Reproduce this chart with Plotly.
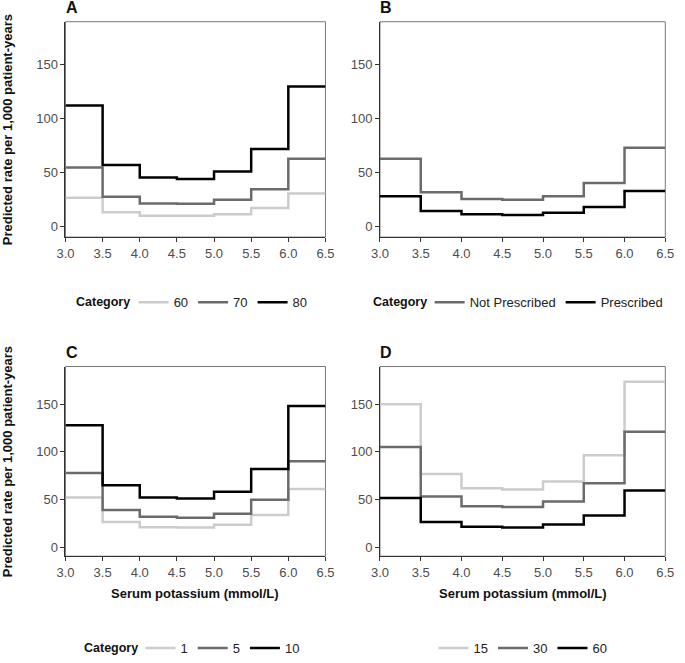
import plotly.graph_objects as go

# ---- data ----
bin_starts = [3.0, 3.5, 4.0, 4.5, 5.0, 5.5, 6.0]
bin_end = 6.5
x_ticks = [3.0, 3.5, 4.0, 4.5, 5.0, 5.5, 6.0, 6.5]
y_ticks = [0, 50, 100, 150]

a_names = ["60", "70", "80"]
a_60 = [26.8, 13.4, 10.3, 10.3, 11.6, 17.3, 30.7]
a_70 = [54.8, 27.7, 21.6, 21.3, 24.9, 34.7, 63.0]
a_80 = [112.0, 57.2, 45.6, 44.1, 51.1, 71.8, 129.6]

b_names = ["Not Prescribed", "Prescribed"]
b_not = [63.0, 31.9, 25.6, 24.9, 28.3, 40.5, 73.0]
b_pres = [28.3, 14.6, 11.6, 11.0, 13.0, 18.3, 33.2]

c_names = ["1", "5", "10"]
c_1 = [52.0, 26.4, 20.8, 20.5, 23.6, 33.7, 61.0]
c_5 = [77.8, 38.9, 31.9, 30.9, 35.0, 49.7, 90.0]
c_10 = [128.0, 65.0, 52.0, 51.0, 58.0, 82.0, 148.0]

d_names = ["15", "30", "60"]
d_15 = [150.0, 76.7, 61.9, 60.5, 68.8, 96.4, 173.5]
d_30 = [105.0, 53.2, 42.9, 42.2, 48.0, 67.0, 121.0]
d_60 = [51.5, 26.3, 21.4, 20.7, 23.8, 33.2, 59.5]

LIGHT = "#cccccc"
MID = "#6b6b6b"
DARK = "#000000"

W, H = 685, 663
FONT = "Liberation Sans, Arial, sans-serif"

def px_x(v):
    return v / W

def px_y(v):
    return (H - v) / H

panels = {
    "A": dict(x=(58, 325), y=(22, 240)),
    "B": dict(x=(381, 674), y=(22, 240)),
    "C": dict(x=(58, 325), y=(371, 563)),
    "D": dict(x=(381, 674), y=(371, 563)),
}

fig = go.Figure()

series = {
    "A": (a_names, [a_60, a_70, a_80], [LIGHT, MID, DARK], "legend"),
    "B": (b_names, [b_not, b_pres], [MID, DARK], "legend2"),
    "C": (c_names, [c_1, c_5, c_10], [LIGHT, MID, DARK], "legend3"),
    "D": (d_names, [d_15, d_30, d_60], [LIGHT, MID, DARK], "legend4"),
}

axis_ids = {"A": "", "B": "2", "C": "3", "D": "4"}

for key, (names, vals, cols, leg) in series.items():
    aid = axis_ids[key]
    for nm, v, c in zip(names, vals, cols):
        xs = list(bin_starts) + [bin_end]
        ys = list(v) + [v[-1]]
        fig.add_trace(go.Scatter(
            x=xs, y=ys, mode="lines", name=nm,
            line=dict(color=c, width=2.5, shape="hv"),
            xaxis="x" + aid, yaxis="y" + aid, legend=leg,
            showlegend=True,
        ))

tick_font = dict(family=FONT, size=13, color="#4d4d4d")
layout = dict(
    width=W, height=H,
    margin=dict(l=0, r=0, t=0, b=0),
    paper_bgcolor="white", plot_bgcolor="white",
    font=dict(family=FONT, color="#222"),
    showlegend=True,
)

for key, p in panels.items():
    aid = axis_ids[key]
    layout["xaxis" + aid] = dict(
        domain=[px_x(p["x"][0]), px_x(p["x"][1])],
        range=[3.0, 6.5], tickvals=x_ticks,
        ticktext=[f"{t:.1f}" for t in x_ticks],
        showgrid=False, zeroline=False,
        showline=True, linecolor="#333", linewidth=1,
        ticks="outside", ticklen=4, tickcolor="#333",
        tickfont=tick_font, anchor="y" + aid, fixedrange=True,
    )
    layout["yaxis" + aid] = dict(
        domain=[px_y(p["y"][1]), px_y(p["y"][0])],
        range=[-9.5, 189.5], tickvals=y_ticks,
        showgrid=False, zeroline=False,
        showline=True, linecolor="#333", linewidth=1,
        ticks="outside", ticklen=4, tickcolor="#333",
        tickfont=tick_font, anchor="x" + aid, fixedrange=True,
    )

leg_common = dict(
    orientation="h", xanchor="left", yanchor="middle",
    font=dict(family=FONT, size=13, color="#222"),
    bgcolor="rgba(0,0,0,0)", borderwidth=0, itemwidth=30,
)
layout["legend"] = dict(leg_common, x=px_x(128), y=px_y(306))
layout["legend2"] = dict(leg_common, x=px_x(432), y=px_y(306))
layout["legend3"] = dict(leg_common, x=px_x(135), y=px_y(656))
layout["legend4"] = dict(leg_common, x=px_x(436), y=px_y(656))

fig.update_layout(**layout)

shapes = []
for key in panels:
    aid = axis_ids[key]
    shapes.append(dict(
        type="rect", xref=("x" + aid) + " domain", yref=("y" + aid) + " domain",
        x0=0, x1=1, y0=0, y1=1, line=dict(color="#777", width=1), layer="below",
    ))
fig.update_layout(shapes=shapes)

ann = []
title_font = dict(family=FONT, size=16, color="#111")
for key, (xx, yy) in {"A": (56, 8), "B": (379, 8), "C": (56, 357), "D": (379, 357)}.items():
    ann.append(dict(text=f"<b>{key}</b>", x=px_x(xx), y=px_y(yy), xref="paper", yref="paper",
                    xanchor="left", yanchor="middle", showarrow=False, font=title_font))

cat_font = dict(family=FONT, size=12.5, color="#111")
for xx, yy in [(67, 306), (372, 306), (75, 656)]:
    ann.append(dict(text="<b>Category</b>", x=px_x(xx), y=px_y(yy), xref="paper", yref="paper",
                    xanchor="left", yanchor="middle", showarrow=False, font=cat_font))

ytitle = "<b>Predicted rate per 1,000 patient-years</b>"
axis_font = dict(family=FONT, size=13, color="#111")
for yy in [131, 467]:
    ann.append(dict(text=ytitle, x=px_x(-11), y=px_y(yy), xref="paper", yref="paper",
                    xanchor="left", yanchor="middle", textangle=-90, showarrow=False,
                    font=axis_font))
xtitle = "<b>Serum potassium (mmol/L)</b>"
for xx in [191.5, 527.5]:
    ann.append(dict(text=xtitle, x=px_x(xx), y=px_y(601), xref="paper", yref="paper",
                    xanchor="center", yanchor="middle", showarrow=False,
                    font=axis_font))
fig.update_layout(annotations=ann)

fig.write_html(
    "out.html",
    config={"displayModeBar": False},
    post_script="document.body.style.margin='0';document.body.style.overflow='hidden';",
)
